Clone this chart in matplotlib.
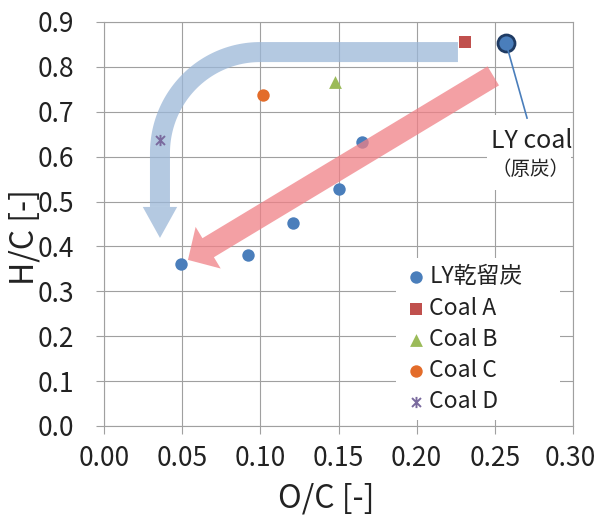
import numpy as np
import matplotlib
matplotlib.use("Agg")
import matplotlib.pyplot as plt
import matplotlib.transforms as mtransforms
from matplotlib.patches import FancyArrowPatch, Polygon, Rectangle, ArrowStyle
from matplotlib.path import Path

plt.rcParams['font.family'] = ['Noto Sans CJK JP', 'DejaVu Sans']

# ---- data -------------------------------------------------------------
char_oc = [0.049, 0.092, 0.121, 0.150, 0.165]      # LY乾留炭
char_hc = [0.362, 0.380, 0.453, 0.528, 0.632]
ly_raw_oc = [0.257]                                # LY coal (原炭)
ly_raw_hc = [0.853]
coal_a_oc, coal_a_hc = [0.231], [0.855]
coal_b_oc, coal_b_hc = [0.148], [0.766]
coal_c_oc, coal_c_hc = [0.102], [0.738]
coal_d_oc, coal_d_hc = [0.036], [0.637]

series_labels = ["LY乾留炭", "Coal A", "Coal B", "Coal C", "Coal D"]
x_ticks = [0.00, 0.05, 0.10, 0.15, 0.20, 0.25, 0.30]
y_ticks = [0.0, 0.1, 0.2, 0.3, 0.4, 0.5, 0.6, 0.7, 0.8, 0.9]

BLUE = "#4a7ebb"
RED = "#c0504d"
GREEN = "#9bbb59"
ORANGE = "#e36c2a"
PURPLE = "#7a6a9e"
GRID = "#a0a0a0"
TEXT = "#222222"

# asterisk-like marker: X plus vertical bar
star = Path([(-1, -1), (1, 1), (-1, 1), (1, -1), (0, -1.25), (0, 1.25)],
            [Path.MOVETO, Path.LINETO, Path.MOVETO, Path.LINETO,
             Path.MOVETO, Path.LINETO])

fig = plt.figure(figsize=(5.95, 5.16), dpi=100)
ax = fig.add_axes([104 / 595, 90 / 516, 469 / 595, 404 / 516])
ax.set_xlim(0, 0.30)
ax.set_ylim(0, 0.9)
ax.set_axisbelow(True)
ax.grid(True, color=GRID, linewidth=0.8)
for s in ax.spines.values():
    s.set_color(GRID)
    s.set_linewidth(0.8)

ax.set_xticks(x_ticks)
ax.set_xticklabels([f"{v:.2f}" for v in x_ticks])
ax.set_yticks(y_ticks)
ax.set_yticklabels([f"{v:.1f}" for v in y_ticks])
ax.tick_params(axis='both', colors=GRID, labelcolor=TEXT,
               labelsize=19, length=5.5, width=0.8)
ax.tick_params(axis='x', pad=8)
ax.tick_params(axis='y', pad=16)

# keep the last x tick label inside the canvas
last = ax.get_xticklabels()[-1]
last.set_transform(last.get_transform() +
                   mtransforms.ScaledTranslation(-3 / 100, 0, fig.dpi_scale_trans))

fig.text(326 / 595, 1 - 499 / 516, "O/C [-]", fontsize=23,
         ha='center', va='center', color=TEXT)
fig.text(25 / 595, 1 - 237 / 516, "H/C [-]", fontsize=23, rotation=90,
         ha='center', va='center', color=TEXT)

# ---- curved blue arrow (light) ----------------------------------------
arrow_blue = "#9bb7d8"
x_right, y_top = 0.2264, 0.833
cx, cy, rx, ry = 0.0998, 0.608, 0.064, 0.225
t = np.linspace(np.pi / 2, np.pi, 60)
xs = np.concatenate([[x_right], cx + rx * np.cos(t), [cx - rx]])
ys = np.concatenate([[y_top], cy + ry * np.sin(t), [0.488]])
ax.plot(xs, ys, color=arrow_blue, alpha=0.75, lw=14.4,
        solid_capstyle='butt', solid_joinstyle='round', zorder=2)
hx = cx - rx
ax.add_patch(Polygon([(hx - 0.0110, 0.488), (hx + 0.0110, 0.488), (hx, 0.419)],
                     closed=True, fc=arrow_blue, ec='none', alpha=0.75,
                     zorder=2))

# ---- markers ------------------------------------------------------------
ms = 80
h1 = ax.scatter(char_oc, char_hc, s=ms, color=BLUE, zorder=3,
                label=series_labels[0], linewidths=0)
h2 = ax.scatter(coal_a_oc, coal_a_hc, s=75, marker='s', color=RED, zorder=3,
                label=series_labels[1], linewidths=0)
h3 = ax.scatter(coal_b_oc, coal_b_hc, s=85, marker='^', color=GREEN, zorder=3,
                label=series_labels[2], linewidths=0)
h4 = ax.scatter(coal_c_oc, coal_c_hc, s=ms, color=ORANGE, zorder=3,
                label=series_labels[3], linewidths=0)
h5 = ax.scatter(coal_d_oc, coal_d_hc, s=65, marker=star, color=PURPLE,
                zorder=3, label=series_labels[4], linewidths=1.4)
ax.scatter(ly_raw_oc, ly_raw_hc, s=150, color=BLUE, edgecolors="#1f3b63",
           linewidths=2.0, zorder=3)

# ---- straight red arrow -------------------------------------------------
red_arrow = FancyArrowPatch(
    (0.249, 0.780), (0.0537, 0.370),
    arrowstyle=ArrowStyle.Simple(head_length=17, head_width=35, tail_width=16),
    mutation_scale=1, shrinkA=0, shrinkB=0,
    fc="#f08086", ec='none', alpha=0.75, zorder=4)
ax.add_patch(red_arrow)

# ---- LY coal callout ----------------------------------------------------
ax.add_patch(Rectangle((0.245, 0.526), 0.054, 0.167, fc='white', ec='none',
                       zorder=1))
ax.plot([0.2584, 0.2706], [0.8376, 0.686], color=BLUE, lw=1.2, zorder=3)
ax.text(0.2735, 0.636, "LY coal", fontsize=18, ha='center', va='center',
        color=TEXT, zorder=5)
ax.text(0.2730, 0.572, "（原炭）", fontsize=14, ha='center', va='center',
        color=TEXT, zorder=5)

# ---- legend ---------------------------------------------------------------
leg = ax.legend(handles=[h1, h2, h3, h4, h5], loc='upper left',
                bbox_to_anchor=((385 - 104) / 469, 0.0,
                                (571 - 385) / 469, (426 - 247) / 404),
                mode='expand',
                fontsize=16.5, frameon=True, fancybox=False,
                facecolor='white', edgecolor='none', framealpha=1,
                handletextpad=0.03, labelspacing=0.36, borderpad=0.3,
                handlelength=1.1, scatterpoints=1)
leg.set_zorder(6)
for txt in leg.get_texts():
    txt.set_color(TEXT)

fig.savefig("out.png", dpi=100, facecolor='white')
